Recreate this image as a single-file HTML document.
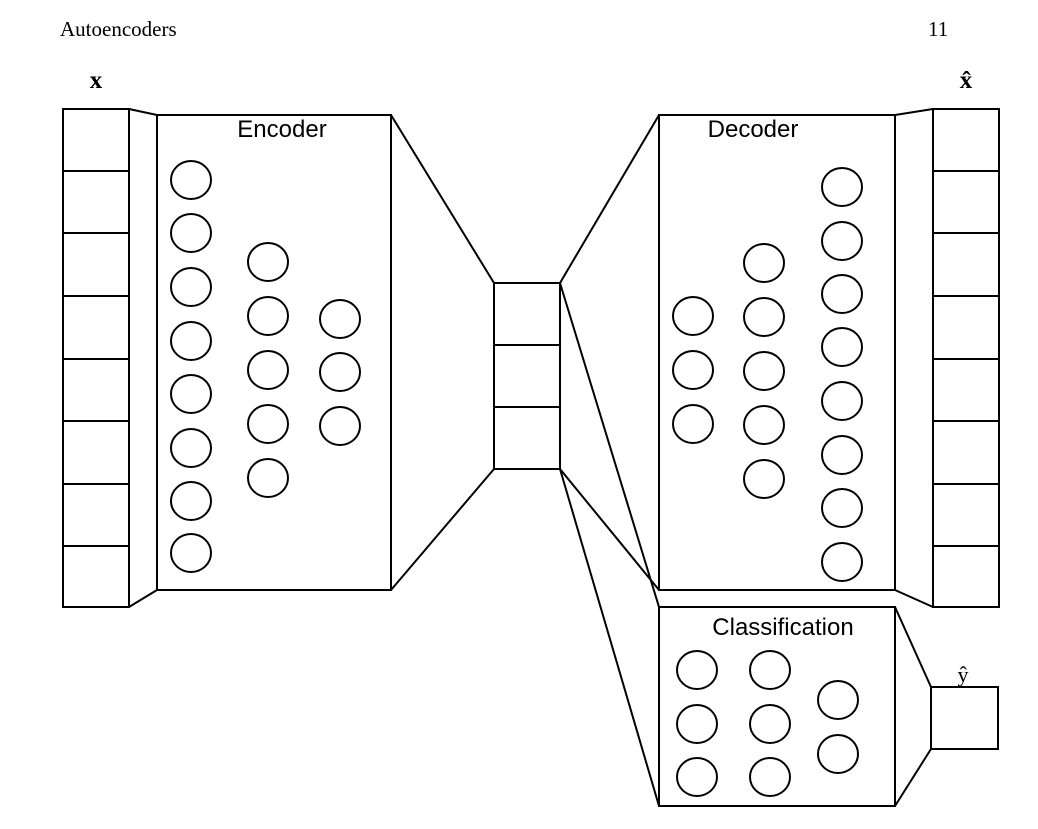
<!DOCTYPE html>
<html><head><style>body{margin:0;background:#fff}svg{display:block}</style></head><body>
<svg width="1038" height="829" xmlns="http://www.w3.org/2000/svg" font-family="Liberation Sans, sans-serif">
<g fill="none" stroke="#000" stroke-width="2">
<rect x="63" y="109" width="66" height="498"/>
<path d="M63 171H129M63 233H129M63 296H129M63 359H129M63 421H129M63 484H129M63 546H129"/>
<rect x="157" y="115" width="234" height="475"/>
<path d="M129 109L157 115M129 607L157 590M391 115L494 283M391 590L494 469"/>
<rect x="494" y="283" width="66" height="186"/>
<path d="M494 345H560M494 407H560"/>
<rect x="659" y="115" width="236" height="475"/>
<path d="M560 283L659 115M560 469L659 590M560 283L659 607M560 469L659 806"/>
<rect x="933" y="109" width="66" height="498"/>
<path d="M933 171H999M933 233H999M933 296H999M933 359H999M933 421H999M933 484H999M933 546H999"/>
<path d="M895 115L933 109M895 590L933 607"/>
<rect x="659" y="607" width="236" height="199"/>
<path d="M895 607L931 687M895 806L931 749"/>
<rect x="931" y="687" width="67" height="62"/>
<g>
<ellipse cx="191" cy="180" rx="20" ry="19"/><ellipse cx="191" cy="233" rx="20" ry="19"/><ellipse cx="191" cy="287" rx="20" ry="19"/><ellipse cx="191" cy="341" rx="20" ry="19"/><ellipse cx="191" cy="394" rx="20" ry="19"/><ellipse cx="191" cy="448" rx="20" ry="19"/><ellipse cx="191" cy="501" rx="20" ry="19"/><ellipse cx="191" cy="553" rx="20" ry="19"/>
<ellipse cx="268" cy="262" rx="20" ry="19"/><ellipse cx="268" cy="316" rx="20" ry="19"/><ellipse cx="268" cy="370" rx="20" ry="19"/><ellipse cx="268" cy="424" rx="20" ry="19"/><ellipse cx="268" cy="478" rx="20" ry="19"/>
<ellipse cx="340" cy="319" rx="20" ry="19"/><ellipse cx="340" cy="372" rx="20" ry="19"/><ellipse cx="340" cy="426" rx="20" ry="19"/>
<ellipse cx="693" cy="316" rx="20" ry="19"/><ellipse cx="693" cy="370" rx="20" ry="19"/><ellipse cx="693" cy="424" rx="20" ry="19"/>
<ellipse cx="764" cy="263" rx="20" ry="19"/><ellipse cx="764" cy="317" rx="20" ry="19"/><ellipse cx="764" cy="371" rx="20" ry="19"/><ellipse cx="764" cy="425" rx="20" ry="19"/><ellipse cx="764" cy="479" rx="20" ry="19"/>
<ellipse cx="842" cy="187" rx="20" ry="19"/><ellipse cx="842" cy="241" rx="20" ry="19"/><ellipse cx="842" cy="294" rx="20" ry="19"/><ellipse cx="842" cy="347" rx="20" ry="19"/><ellipse cx="842" cy="401" rx="20" ry="19"/><ellipse cx="842" cy="455" rx="20" ry="19"/><ellipse cx="842" cy="508" rx="20" ry="19"/><ellipse cx="842" cy="562" rx="20" ry="19"/>
<ellipse cx="697" cy="670" rx="20" ry="19"/><ellipse cx="697" cy="724" rx="20" ry="19"/><ellipse cx="697" cy="777" rx="20" ry="19"/>
<ellipse cx="770" cy="670" rx="20" ry="19"/><ellipse cx="770" cy="724" rx="20" ry="19"/><ellipse cx="770" cy="777" rx="20" ry="19"/>
<ellipse cx="838" cy="700" rx="20" ry="19"/><ellipse cx="838" cy="754" rx="20" ry="19"/>
</g></g>
<g font-size="24" text-anchor="middle">
<text x="282" y="137">Encoder</text>
<text x="753" y="137">Decoder</text>
<text x="783" y="635">Classification</text>
</g>
<g font-family="Liberation Serif, serif">
<text x="60" y="36" font-size="21">Autoencoders</text>
<text x="928" y="36" font-size="21">11</text>
<text x="96" y="88" font-size="25" font-weight="bold" text-anchor="middle">x</text>
<text x="966" y="88" font-size="25" font-weight="bold" text-anchor="middle">x̂</text>
<text x="963" y="682" font-size="22" text-anchor="middle">ŷ</text>
</g>
</svg>
</body></html>
